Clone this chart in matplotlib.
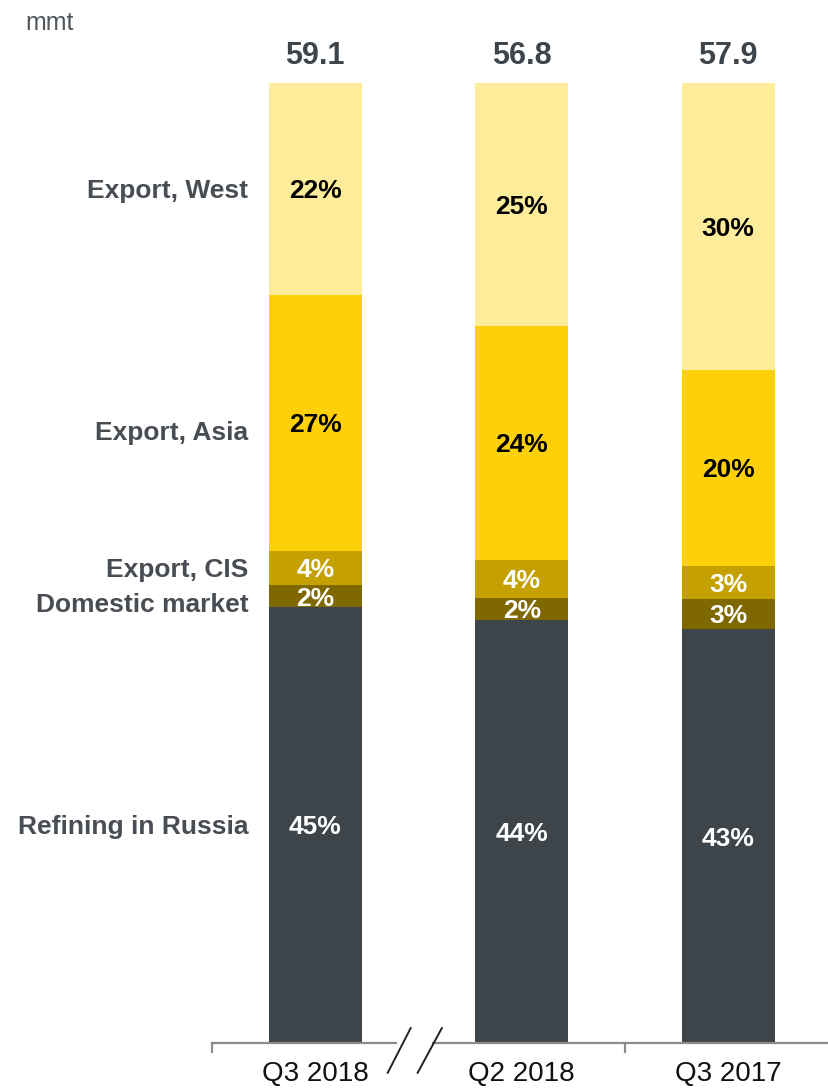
import numpy as np
import matplotlib
matplotlib.use('Agg')
from matplotlib import pyplot as plt

plt.rcParams['font.family'] = ['Liberation Sans', 'DejaVu Sans']

# data
periods = ['Q3 2018', 'Q2 2018', 'Q3 2017']
totals = [59.1, 56.8, 57.9]
segments = ['Refining in Russia', 'Domestic market', 'Export, CIS', 'Export, Asia', 'Export, West']
refining = [45.4, 44.1, 43.1]
domestic = [2.3, 2.3, 3.2]
export_cis = [3.6, 3.9, 3.4]
export_asia = [26.6, 24.4, 20.4]
export_west = [22.1, 25.3, 29.9]

shares = [refining, domestic, export_cis, export_asia, export_west]
colors = ['#3d454b', '#806800', '#c4a000', '#fdd00a', '#fdec99']
txt_colors = ['white', 'white', 'white', 'black', 'black']
name_nudge = [0, -0.7, 0, -0.8, 0]   # small shifts for left labels

W, H = 829, 1089
fig = plt.figure(figsize=(W / 100, H / 100), dpi=100)
ax = fig.add_axes([212 / W, (H - 1043) / H, 619.5 / W, 960 / H])
ax.set_xlim(-0.5, 2.5)
ax.set_ylim(0, 100)

x = np.arange(len(periods))
bw = 0.45
bottom = np.zeros(len(periods))
for i, vals in enumerate(shares):
    vals = np.array(vals)
    ax.bar(x, vals, bw, bottom=bottom, color=colors[i], edgecolor='none')
    for j in range(len(x)):
        ax.text(x[j], bottom[j] + vals[j] / 2 - 0.25, '%d%%' % round(vals[j]),
                ha='center', va='center', fontsize=19, fontweight='bold',
                color=txt_colors[i])
    # category names next to the first bar
    ax.text(-bw / 2 - 0.1, bottom[0] + vals[0] / 2 + name_nudge[i] - 0.25, segments[i],
            ha='right', va='center', fontsize=19, fontweight='bold',
            color='#474d52', clip_on=False)
    bottom += vals

for j in range(len(x)):
    ax.text(x[j], 102.8, '%.1f' % totals[j], ha='center', va='center',
            fontsize=22, fontweight='bold', color='#3d454b', clip_on=False)

fig.text(25 / W, 1 - 23 / H, 'mmt', ha='left', va='center', fontsize=18,
         color='#50575c')

# axis
for s in ax.spines.values():
    s.set_visible(False)
ax.set_yticks([])
ax.set_xticks(x)
ax.set_xticklabels(periods, fontsize=20, color='#111111')
ax.tick_params(axis='x', length=0, pad=13)

ac = '#8c8c8c'
ax.plot([-0.5, 0.395], [0, 0], color=ac, lw=1.6, clip_on=False, solid_capstyle='butt')
ax.plot([0.564, 2.5], [0, 0], color=ac, lw=1.6, clip_on=False, solid_capstyle='butt')
for t in [-0.5, 1.5, 2.5]:
    ax.plot([t, t], [0, -0.95], color=ac, lw=1.6, clip_on=False)
# break marks
ax.plot([0.351, 0.462], [-3.1, 1.55], color='#222222', lw=1.4, clip_on=False)
ax.plot([0.496, 0.613], [-3.1, 1.55], color='#222222', lw=1.4, clip_on=False)

plt.savefig('out.png', dpi=100)
